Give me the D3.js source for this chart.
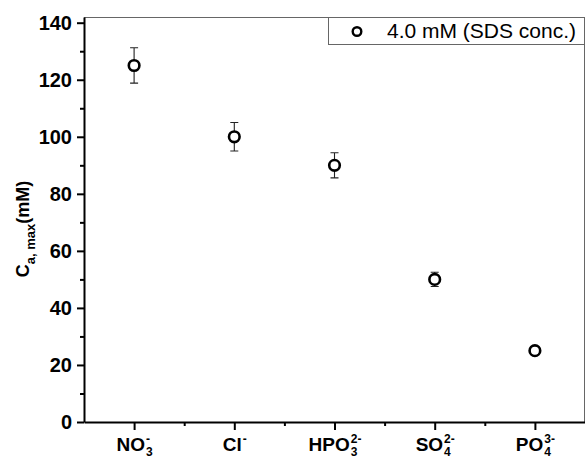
<!DOCTYPE html>
<html>
<head>
    <style>
        body { margin: 0; background: #fff; }
        svg { font-family: "Liberation Sans", Arial, sans-serif; }
        .axis path, .axis line { stroke: #000; stroke-width: 2; }
        .axis text { font-size: 20px; font-weight: bold; fill: #000; }
        .xlab { font-weight: bold; fill: #000; }
        .point { fill: #fff; stroke: #000; stroke-width: 2.6; }
        .err { stroke: #222; stroke-width: 1.1; fill: none; }
        .frame { stroke: #666; stroke-width: 1; fill: none; }
    </style>
</head>
<body>
<svg width="585" height="459"></svg>
<script src="https://cdn.jsdelivr.net/npm/d3@7"></script>
<script>

// anions: base text, subscript, superscript
var anions = [
    {base: "NO", sub: "3", sup: "-"},
    {base: "Cl", sub: "", sup: "-"},
    {base: "HPO", sub: "3", sup: "2-"},
    {base: "SO", sub: "4", sup: "2-"},
    {base: "PO", sub: "4", sup: "3-"}
];
var cmax = [125, 100, 90, 50, 25];
var errs = [6.2, 5, 4.4, 2.5, 1];
var yTicks = [0, 20, 40, 60, 80, 100, 120, 140];
var yMinor = [10, 30, 50, 70, 90, 110, 130];
var legendLabel = "4.0 mM (SDS conc.)";

var svg = d3.select("svg"),
    margin = {top: 17, right: 0, bottom: 37, left: 84},
    width = 501,
    height = 405,
    g = svg.append("g").attr("transform", "translate(" + margin.left + "," + margin.top + ")");

var x = d3.scaleLinear().domain([0.5, 5.5]).range([0, width]);
var y = d3.scaleLinear().domain([0, 142]).range([height, 0]);

// frame (top and right)
g.append("path")
    .attr("class", "frame")
    .attr("d", "M0,0.5H" + (width - 0.5) + "V" + height);

// minor ticks
g.append("g")
    .attr("class", "axis")
    .call(d3.axisLeft(y).tickValues(yMinor).tickSize(4).tickFormat(""))
    .select(".domain").remove();

g.append("g")
    .attr("class", "axis")
    .attr("transform", "translate(0," + height + ")")
    .call(d3.axisBottom(x).tickValues([1.5, 2.5, 3.5, 4.5]).tickSize(4).tickFormat(""))
    .select(".domain").remove();

// major axes
g.append("g")
    .attr("class", "axis")
    .call(d3.axisLeft(y).tickValues(yTicks).tickSize(7).tickPadding(5).tickSizeOuter(0));

var xAxis = g.append("g")
    .attr("class", "axis")
    .attr("transform", "translate(0," + height + ")")
    .call(d3.axisBottom(x).tickValues([1, 2, 3, 4, 5]).tickSize(8).tickSizeOuter(0).tickFormat(""));

// chemical labels with stacked sub/superscripts
anions.forEach(function(a, i) {
    var lg = xAxis.append("g")
        .attr("transform", "translate(" + x(i + 1) + ",29)")
        .attr("text-anchor", "start");
    var b = lg.append("text").attr("class", "xlab").style("font-size", "19px").text(a.base);
    var sb = lg.append("text").attr("class", "xlab").style("font-size", "12px").attr("dy", 5).text(a.sub);
    var sp = lg.append("text").attr("class", "xlab").style("font-size", "12px").attr("dy", -8).text(a.sup);
    var wb = b.node().getComputedTextLength();
    var ws = Math.max(sb.node().getComputedTextLength(), sp.node().getComputedTextLength());
    var x0 = -(wb + ws) / 2;
    b.attr("x", x0);
    sb.attr("x", x0 + wb + 1);
    sp.attr("x", x0 + wb + 1);
});

// error bars
var eb = g.selectAll(".eb").data(cmax).enter().append("g");
eb.append("path")
    .attr("class", "err")
    .attr("d", function(d, i) {
        var cx = x(i + 1), t = y(d + errs[i]), bt = y(d - errs[i]);
        return "M" + cx + "," + t + "V" + bt +
            "M" + (cx - 4) + "," + t + "H" + (cx + 4) +
            "M" + (cx - 4) + "," + bt + "H" + (cx + 4);
    });

g.selectAll(".point").data(cmax).enter().append("circle")
    .attr("class", "point")
    .attr("cx", function(d, i) { return x(i + 1); })
    .attr("cy", function(d) { return y(d); })
    .attr("r", 5.3);

// y label
var yl = svg.append("text")
    .attr("transform", "translate(29,229) rotate(-90)")
    .attr("text-anchor", "middle")
    .style("font-weight", "bold")
    .style("font-size", "18px");
yl.append("tspan").text("C");
yl.append("tspan").attr("dy", 6).style("font-size", "13px").text("a, max");
yl.append("tspan").attr("dy", -6).text("(mM)");

// legend
var leg = g.append("g").attr("transform", "translate(244,0)");
leg.append("rect")
    .attr("class", "frame")
    .attr("x", 0.5).attr("y", 0.5)
    .attr("width", width - 245).attr("height", 27);
leg.append("circle")
    .attr("class", "point")
    .attr("cx", 29).attr("cy", 14.5).attr("r", 4.3)
    .style("stroke-width", 2.4);
leg.append("text")
    .attr("x", 59).attr("y", 21)
    .style("font-size", "21px")
    .text(legendLabel);

</script>
</body>
</html>
